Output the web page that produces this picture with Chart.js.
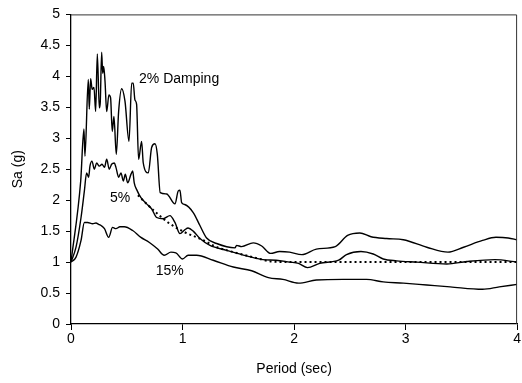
<!DOCTYPE html>
<html lang="en">
<head>
<meta charset="UTF-8">
<title>Sa vs Period</title>
<script src="https://cdn.jsdelivr.net/npm/chart.js"></script>
<style>
  html, body { margin: 0; padding: 0; background: #fff; }
  #wrap { width: 522px; height: 383px; }
</style>
</head>
<body>
<div id="wrap"><canvas id="chart" width="522" height="383"></canvas></div>
<script>
// periods (sec) and spectral accel (g)
const damp2T = [0, 0.087, 0.116, 0.125, 0.155, 0.164, 0.176, 0.19, 0.206, 0.221, 0.236, 0.254, 0.262, 0.275, 0.284, 0.293, 0.305, 0.32, 0.34, 0.355, 0.37, 0.385, 0.406, 0.427, 0.454, 0.484, 0.52, 0.544, 0.558, 0.573, 0.588, 0.606, 0.633, 0.648, 0.693, 0.723, 0.753, 0.774, 0.80, 0.857, 0.932, 0.962, 0.977, 0.992, 1.02, 1.096, 1.156, 1.216, 1.306, 1.47, 1.485, 1.53, 1.634, 1.71, 1.79, 1.87, 1.96, 2.07, 2.20, 2.37, 2.48, 2.59, 2.69, 2.83, 2.98, 3.19, 3.38, 3.52, 3.69, 3.81, 3.92, 4.0];
const damp2Sa = [1, 2.31, 3.15, 2.71, 3.95, 3.47, 3.96, 3.79, 3.82, 3.43, 4.36, 3.49, 3.57, 4.39, 4.05, 4.16, 3.92, 3.43, 3.70, 3.65, 3.11, 3.35, 2.74, 3.43, 3.80, 3.60, 2.95, 3.89, 3.89, 3.62, 3.55, 2.66, 2.95, 2.60, 2.44, 2.85, 2.91, 2.74, 2.12, 2.10, 1.94, 2.15, 2.16, 1.96, 1.93, 1.80, 1.59, 1.39, 1.30, 1.23, 1.27, 1.25, 1.31, 1.26, 1.14, 1.17, 1.16, 1.12, 1.21, 1.25, 1.43, 1.47, 1.41, 1.38, 1.36, 1.24, 1.16, 1.24, 1.35, 1.40, 1.39, 1.36];

const damp5T = [0, 0.045, 0.09, 0.12, 0.14, 0.158, 0.17, 0.188, 0.209, 0.23, 0.254, 0.278, 0.30, 0.32, 0.343, 0.364, 0.388, 0.403, 0.427, 0.448, 0.469, 0.487, 0.508, 0.538, 0.553, 0.567, 0.589, 0.627, 0.678, 0.723, 0.768, 0.827, 0.887, 0.932, 0.977, 1.02, 1.05, 1.096, 1.156, 1.246, 1.395, 1.574, 1.72, 1.84, 1.96, 2.04, 2.12, 2.23, 2.40, 2.47, 2.60, 2.71, 2.80, 2.92, 3.10, 3.37, 3.55, 3.80, 4.0];
const damp5Sa = [1, 1.24, 1.72, 2.15, 2.44, 2.37, 2.55, 2.63, 2.50, 2.60, 2.55, 2.58, 2.53, 2.66, 2.50, 2.58, 2.60, 2.53, 2.37, 2.44, 2.31, 2.42, 2.28, 2.42, 2.47, 2.28, 2.17, 2.04, 1.94, 1.86, 1.72, 1.70, 1.75, 1.64, 1.46, 1.52, 1.55, 1.50, 1.38, 1.27, 1.19, 1.10, 1.04, 1.03, 1.0, 0.98, 0.91, 0.98, 1.03, 1.12, 1.17, 1.13, 1.05, 1.02, 1.0, 0.97, 1.01, 1.04, 1.0];

const damp15T = [0, 0.045, 0.09, 0.12, 0.149, 0.194, 0.224, 0.248, 0.27, 0.30, 0.338, 0.373, 0.403, 0.439, 0.478, 0.553, 0.627, 0.70, 0.777, 0.836, 0.896, 0.94, 1.0, 1.05, 1.126, 1.275, 1.455, 1.62, 1.77, 1.90, 2.04, 2.20, 2.44, 2.65, 2.80, 2.98, 3.19, 3.40, 3.69, 3.84, 4.0];
const damp15Sa = [1, 1.08, 1.35, 1.64, 1.64, 1.62, 1.63, 1.61, 1.59, 1.54, 1.40, 1.56, 1.54, 1.57, 1.57, 1.51, 1.40, 1.32, 1.21, 1.11, 1.16, 1.15, 1.05, 1.11, 1.11, 1.03, 0.92, 0.86, 0.75, 0.72, 0.66, 0.71, 0.72, 0.72, 0.68, 0.66, 0.63, 0.60, 0.56, 0.60, 0.64];

// target spectrum (dotted), visible from ~0.6 s on
const targetT = [0.6, 0.65, 0.75, 0.87, 1.0, 1.19, 1.31, 1.46, 1.63, 1.8, 2.0, 4.0];
const targetSa = [2.08, 1.99, 1.82, 1.64, 1.5, 1.35, 1.24, 1.16, 1.08, 1.01, 1.0, 1.0];

const yTickStep = 0.5;
const curveLabels = [
  { text: '2% Damping', x: 0.61, y: 3.95 },
  { text: '5%', x: 0.35, y: 2.04 },
  { text: '15%', x: 0.76, y: 0.86 }
];

const FONT = 'Liberation Sans, Arial, sans-serif';

function pts(xs, ys) {
  return xs.map((x, i) => ({ x: x, y: ys[i] }));
}

// frame around plot area + text on the curves
const extras = {
  id: 'extras',
  afterDatasetsDraw(chart) {
    const ctx = chart.ctx;
    const a = chart.chartArea;
    const xs = chart.scales.x, ys = chart.scales.y;
    ctx.save();
    ctx.strokeStyle = '#333';
    ctx.lineWidth = 1;
    ctx.beginPath();
    ctx.moveTo(a.left, a.top + 0.5);
    ctx.lineTo(a.right - 0.5, a.top + 0.5);
    ctx.lineTo(a.right - 0.5, a.bottom);
    ctx.stroke();
    ctx.fillStyle = '#000';
    ctx.font = '14px ' + FONT;
    ctx.textBaseline = 'middle';
    ctx.textAlign = 'left';
    curveLabels.forEach(l => {
      ctx.fillText(l.text, xs.getPixelForValue(l.x), ys.getPixelForValue(l.y));
    });
    ctx.restore();
  }
};

const lineStyle = { borderColor: '#000', borderWidth: 1.4, pointRadius: 0, showLine: true, fill: false, cubicInterpolationMode: 'monotone' };

new Chart(document.getElementById('chart'), {
  type: 'scatter',
  data: {
    datasets: [
      Object.assign({ label: 'target', data: pts(targetT, targetSa) }, lineStyle, { borderWidth: 2, borderDash: [2, 3] }),
      Object.assign({ label: '15%', data: pts(damp15T, damp15Sa) }, lineStyle),
      Object.assign({ label: '5%', data: pts(damp5T, damp5Sa) }, lineStyle),
      Object.assign({ label: '2%', data: pts(damp2T, damp2Sa) }, lineStyle)
    ]
  },
  options: {
    responsive: false,
    animation: false,
    layout: { padding: { top: 12, right: 4, left: 0, bottom: 0 } },
    plugins: { legend: { display: false }, tooltip: { enabled: false } },
    scales: {
      x: {
        type: 'linear', min: 0, max: 4,
        afterFit(s) { s.height = 59; },
        grid: { drawOnChartArea: false, drawTicks: true, tickLength: 6, color: '#000' },
        border: { color: '#000', width: 1.3 },
        ticks: { stepSize: 1, color: '#000', font: { family: FONT, size: 14 }, padding: 1, maxRotation: 0 },
        title: { display: true, text: 'Period (sec)', color: '#000', font: { family: FONT, size: 14 }, padding: { top: 0, bottom: 5 } }
      },
      y: {
        min: 0, max: 5,
        afterFit(s) { s.width = 71; },
        grid: { drawOnChartArea: false, drawTicks: true, tickLength: 5, color: '#000' },
        border: { color: '#000', width: 1.3 },
        ticks: { stepSize: yTickStep, color: '#000', font: { family: FONT, size: 14 }, padding: 6, callback: v => String(v) },
        title: { display: true, text: 'Sa (g)', color: '#000', font: { family: FONT, size: 14 }, padding: { top: 10, bottom: 0 } }
      }
    }
  },
  plugins: [extras]
});
</script>
</body>
</html>
